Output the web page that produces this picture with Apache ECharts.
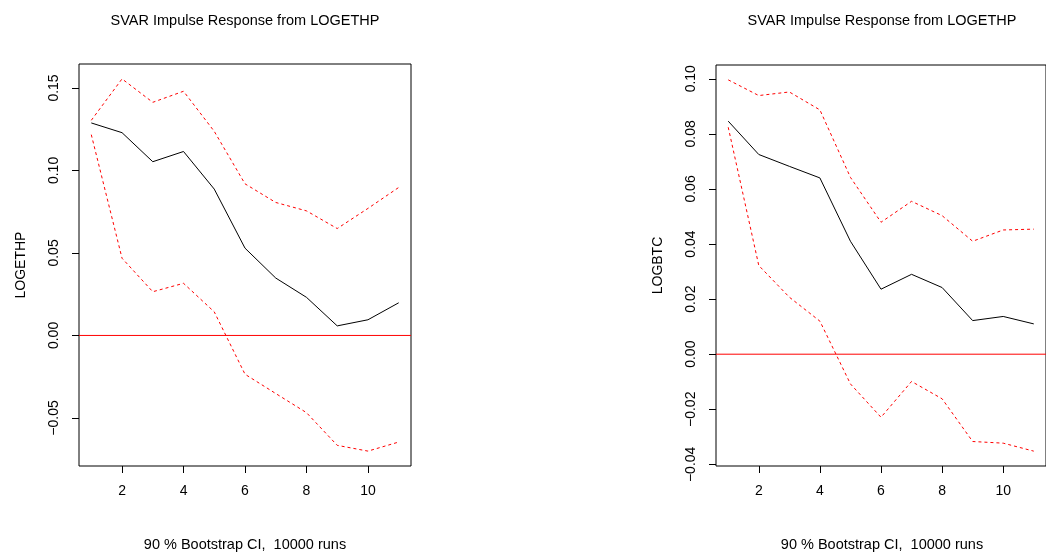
<!DOCTYPE html>
<html>
<head>
<meta charset="utf-8">
<script src="https://cdn.jsdelivr.net/npm/echarts@6/dist/echarts.min.js"></script>
<style>
html,body{margin:0;padding:0;background:#fff;}
#chart{width:1046px;height:554px;}
</style>
</head>
<body>
<div id="chart"></div>
<script>
// ---- data ----
const horizon = [1, 2, 3, 4, 5, 6, 7, 8, 9, 10, 11];
const xTicks = [2, 4, 6, 8, 10];

const ethResp  = [0.1288, 0.1229, 0.1053, 0.1115, 0.0887, 0.0529, 0.0348, 0.0231, 0.0058, 0.0095, 0.0198];
const ethUpper = [0.1304, 0.1555, 0.1413, 0.1480, 0.1237, 0.0919, 0.0806, 0.0755, 0.0648, 0.0770, 0.0897];
const ethLower = [0.1217, 0.0468, 0.0265, 0.0316, 0.0143, -0.0235, -0.0352, -0.0468, -0.0666, -0.0701, -0.0646];
const ethTicks = [-0.05, 0, 0.05, 0.10, 0.15];

const btcResp  = [0.0846, 0.0725, 0.0682, 0.0640, 0.0410, 0.0236, 0.0290, 0.0242, 0.0122, 0.0137, 0.0110];
const btcUpper = [0.0996, 0.0939, 0.0952, 0.0887, 0.0642, 0.0479, 0.0555, 0.0503, 0.0410, 0.0451, 0.0454];
const btcLower = [0.0824, 0.0322, 0.0207, 0.0120, -0.0108, -0.0229, -0.0099, -0.0162, -0.0317, -0.0323, -0.0352];
const btcTicks = [-0.04, -0.02, 0, 0.02, 0.04, 0.06, 0.08, 0.10];

const zeroLevel = 0;
const mainTitle = 'SVAR Impulse Response from LOGETHP';
const subTitle = '90 % Bootstrap CI,  10000 runs';
const yNames = ['LOGETHP', 'LOGBTC'];

// ---- helpers ----
const FONT = "'Liberation Sans', Arial, sans-serif";
function pairs(ys) { return horizon.map((x, i) => [x, ys[i]]); }
function range(arrs) {
  const all = [].concat(...arrs);
  const lo = Math.min(...all), hi = Math.max(...all);
  const pad = (hi - lo) * 0.04;
  return [lo - pad, hi + pad];
}
const xr = range([horizon]);
const ethR = range([ethResp, ethUpper, ethLower]);
const btcR = range([btcResp, btcUpper, btcLower]);
function fmt(v) { return v.toFixed(2).replace('-', '\u2212'); }

const grids = [
  { left: 79, top: 64, width: 332, height: 402 },
  { left: 716, top: 65, width: 332, height: 401 }
];

function xAxis(i) {
  return {
    type: 'value', gridIndex: i, min: xr[0], max: xr[1],
    axisLine: { show: false, onZero: false },
    splitLine: { show: false },
    axisTick: { show: true, length: 7, lineStyle: { color: '#000', width: 1 }, customValues: xTicks },
    axisLabel: { show: true, customValues: xTicks, margin: 18, color: '#000', fontSize: 14, fontFamily: FONT }
  };
}
function yAxis(i, r, ticks) {
  return {
    type: 'value', gridIndex: i, min: r[0], max: r[1],
    name: yNames[i], nameLocation: 'middle', nameGap: 51,
    nameTextStyle: { color: '#000', fontSize: 14, fontFamily: FONT },
    axisLine: { show: false, onZero: false },
    splitLine: { show: false },
    axisTick: { show: true, length: 7, lineStyle: { color: '#000', width: 1 }, customValues: ticks },
    axisLabel: { show: true, customValues: ticks, rotate: 90, margin: 18, color: '#000', fontSize: 14, fontFamily: FONT, formatter: fmt }
  };
}
function panelSeries(i, resp, up, low) {
  return [
    { type: 'line', xAxisIndex: i, yAxisIndex: i, data: [[xr[0], zeroLevel], [xr[1], zeroLevel]], symbol: 'none',
      lineStyle: { color: '#ff0000', width: 1, type: 'solid' }, z: 10, silent: true },
    { type: 'line', xAxisIndex: i, yAxisIndex: i, data: pairs(resp), symbol: 'none',
      lineStyle: { color: '#000', width: 1 }, z: 3 },
    { type: 'line', xAxisIndex: i, yAxisIndex: i, data: pairs(up), symbol: 'none',
      lineStyle: { color: '#ff0000', width: 1, type: [3, 3] }, z: 2 },
    { type: 'line', xAxisIndex: i, yAxisIndex: i, data: pairs(low), symbol: 'none',
      lineStyle: { color: '#ff0000', width: 1, type: [3, 3] }, z: 2 }
  ];
}
function txt(x, y, s) {
  return { type: 'text', x: x, y: y, style: { text: s, textAlign: 'center', textVerticalAlign: 'middle',
    fill: '#000', font: '14.5px ' + FONT } };
}

const chart = echarts.init(document.getElementById('chart'), null, { renderer: 'canvas' });
chart.setOption({
  animation: false,
  backgroundColor: '#fff',
  grid: grids.map(g => Object.assign({ show: true, borderColor: '#000', borderWidth: 1, backgroundColor: 'transparent' }, g)),
  xAxis: [xAxis(0), xAxis(1)],
  yAxis: [yAxis(0, ethR, ethTicks), yAxis(1, btcR, btcTicks)],
  series: [].concat(panelSeries(0, ethResp, ethUpper, ethLower), panelSeries(1, btcResp, btcUpper, btcLower)),
  graphic: [
    txt(245, 21, mainTitle),
    txt(882, 21, mainTitle),
    txt(245, 545, subTitle),
    txt(882, 545, subTitle)
  ]
});
</script>
</body>
</html>
